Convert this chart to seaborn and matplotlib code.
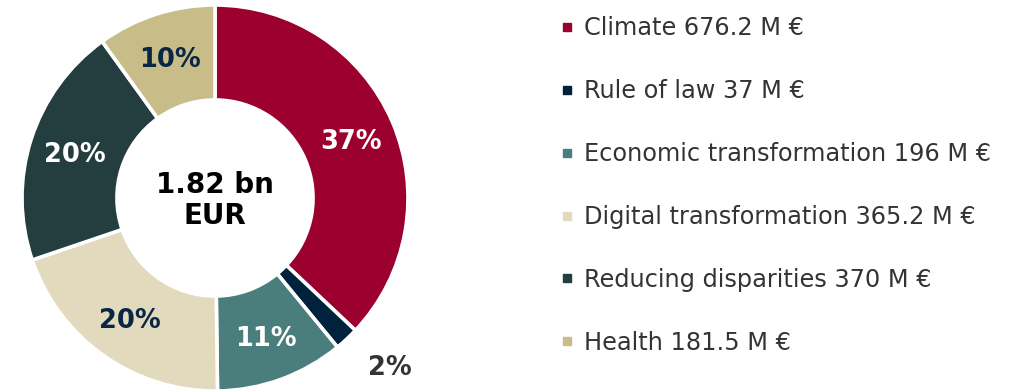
import numpy as np
import matplotlib
matplotlib.use("Agg")
import matplotlib.pyplot as plt
from matplotlib.lines import Line2D
import seaborn as sns

# Allocation by priority area, million euro
areas = ["Climate", "Rule of law", "Economic transformation",
         "Digital transformation", "Reducing disparities", "Health"]
amounts = [676.2, 37, 196, 365.2, 370, 181.5]
colors = ["#9B002F", "#00223D", "#4A7E7C", "#E1DABC", "#243D3F", "#C8BD89"]
label_colors = ["white", "#333333", "white", "#0B2545", "white", "#0B2545"]
center_text = "1.82 bn\nEUR"

sns.set_theme(style="white")
plt.rcParams["font.family"] = ["DejaVu Sans"]

W, H, DPI = 1017, 390, 100
fig = plt.figure(figsize=(W / DPI, H / DPI), dpi=DPI)
cx, cy, R = 215, 192, 193
ax = fig.add_axes([(cx - R) / W, (cy - R) / H, 2 * R / W, 2 * R / H])

inner = 0.508
wedges, _ = ax.pie(amounts, colors=colors, startangle=90, counterclock=False,
                   radius=1, wedgeprops=dict(width=1 - inner, edgecolor="white",
                                             linewidth=2.6))
ax.set_xlim(-1, 1)
ax.set_ylim(-1, 1)
ax.set_aspect("equal")
ax.axis("off")

total = sum(amounts)
for w, v, lc in zip(wedges, amounts, label_colors):
    share = v / total
    if share > 0.05:
        ang = np.deg2rad((w.theta1 + w.theta2) / 2)
        r = 0.765
    else:
        # small slice: label sits outside the ring, by its upper edge
        ang = np.deg2rad(w.theta2 - 0.5)
        r = 1.257
    ax.text(r * np.cos(ang), r * np.sin(ang) - 0.012, f"{share:.0%}",
            ha="center", va="center", fontsize=18.5, fontweight="bold",
            color=lc, clip_on=False)

ax.text(0, -0.012, center_text, ha="center", va="center", fontsize=20,
        fontweight="bold", color="black", linespacing=1.15)

handles = [Line2D([], [], marker="s", linestyle="none", markersize=6,
                  markerfacecolor=c, markeredgecolor=c) for c in colors]
labels = [f"{a} {v:g} M €" for a, v in zip(areas, amounts)]
fig.legend(handles, labels, loc="upper left",
           bbox_to_anchor=(553 / W, 1 - 9 / H), frameon=False,
           fontsize=17.3, labelcolor="#333333", handlelength=0.6,
           handletextpad=0.4, labelspacing=1.62, borderaxespad=0,
           borderpad=0.3)

fig.savefig("out.png", dpi=DPI)
